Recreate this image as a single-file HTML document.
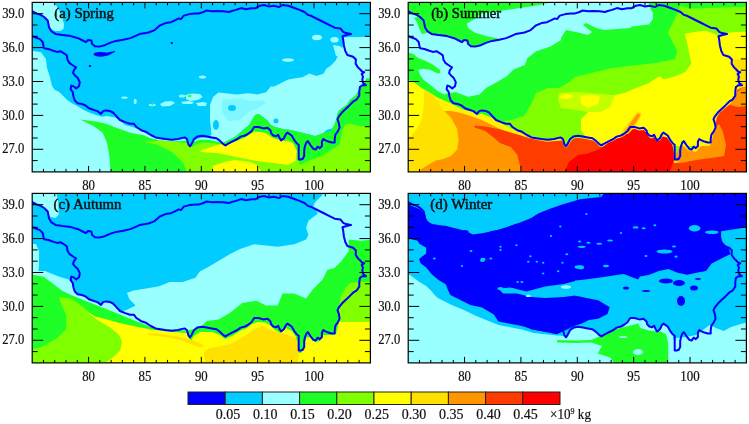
<!DOCTYPE html>
<html><head><meta charset="utf-8"><style>
html,body{margin:0;padding:0;background:#fff;width:749px;height:424px;overflow:hidden}
svg{display:block;will-change:transform;filter:blur(0.55px)}
.tl{font-family:"Liberation Serif",serif;font-size:13.8px;fill:#111;stroke:#111;stroke-width:0.2px}
.cb{font-family:"Liberation Serif",serif;font-size:14px;fill:#111;stroke:#111;stroke-width:0.2px}
.lab{font-family:"Liberation Serif",serif;font-size:13.6px;fill:#111;stroke:#111;stroke-width:0.45px}
</style></head><body>
<svg width="749" height="424" viewBox="0 0 749 424">
<defs>
<clipPath id="clp"><rect x="32.20" y="2.40" width="338.20" height="169.50"/></clipPath>
<polyline id="outline" points="32.5,11.5 36.4,13.4 40.6,14.9 44.1,17.0 47.7,20.5 48.4,24.0 49.1,27.6 51.2,31.1 55.5,33.9 62.5,35.1 71.0,36.1 78.1,38.2 83.7,41.0 86.0,42.2 88.0,40.0 91.4,40.5 92.1,44.0 94.9,46.2 99.1,46.6 104.8,45.2 110.5,42.6 116.1,40.9 123.2,39.8 130.3,38.1 134.5,36.3 139.5,34.1 144.2,33.2 148.5,32.5 154.1,30.4 159.8,25.5 165.5,23.1 171.1,22.2 175.4,20.2 178.9,18.4 181.0,19.1 183.8,15.6 189.5,14.1 195.2,13.4 199.2,13.4 203.5,12.0 206.3,10.6 212.0,11.3 217.6,11.0 223.3,11.3 229.0,12.0 231.8,11.0 236.0,9.9 241.0,8.1 245.9,9.2 251.6,8.2 255.7,8.2 259.9,5.7 264.1,5.0 268.4,6.4 274.0,5.7 279.0,7.1 282.5,5.0 288.2,5.7 293.8,7.8 299.5,9.9 304.5,12.0 308.0,14.9 310.7,15.7 316.3,18.5 323.4,22.0 330.5,25.6 334.7,27.7 340.4,28.4 343.2,31.9 346.0,33.1 351.0,34.0 347.4,34.8 342.5,36.2 343.2,39.7 343.9,45.4 345.3,51.0 347.4,55.0 353.1,56.7 355.9,59.5 355.6,63.7 358.0,67.4 360.5,69.8 362.3,71.7 364.2,72.3 361.7,74.1 363.0,76.6 362.3,79.6 363.0,82.7 366.0,85.2 362.3,85.2 359.9,87.0 359.3,91.3 359.3,95.6 356.8,99.3 353.1,101.7 349.4,105.4 345.3,109.2 341.7,112.8 338.9,116.3 337.5,119.1 338.9,123.4 339.6,127.6 337.5,131.9 335.4,134.7 334.7,139.0 334.7,142.5 331.8,142.5 328.3,141.5 325.5,140.4 323.3,139.0 321.9,141.8 321.9,146.0 319.8,148.1 317.7,146.7 315.6,149.6 313.4,148.8 310.6,145.3 307.8,141.1 306.4,142.5 305.0,146.0 304.2,150.3 304.2,155.9 302.8,158.7 300.7,159.5 298.7,159.5 298.7,152.4 298.7,144.7 296.6,143.2 294.5,140.4 291.7,135.5 287.4,132.6 286.0,134.0 283.9,138.3 281.1,140.4 279.7,138.3 278.2,134.8 276.1,136.2 273.3,135.5 271.2,133.3 270.5,130.5 267.6,127.7 263.4,128.4 258.4,127.0 254.2,127.0 251.4,131.2 247.8,134.0 245.0,135.5 240.6,136.6 237.4,139.0 232.6,141.4 227.8,143.8 225.4,145.4 223.0,143.8 219.7,140.6 216.5,138.2 211.7,137.4 206.9,136.6 202.1,135.8 197.3,136.6 194.1,139.0 191.7,143.8 190.1,146.3 188.5,144.6 186.9,139.0 184.5,137.4 178.1,139.0 171.7,139.8 165.3,139.0 160.4,138.2 155.6,137.4 150.8,135.0 146.0,131.8 141.2,130.2 136.4,127.0 134.0,123.8 130.0,123.8 125.2,122.1 120.0,120.0 115.0,114.6 113.0,112.5 110.2,111.1 105.9,110.4 103.1,111.1 101.0,113.9 97.4,111.1 93.2,109.7 89.0,108.2 85.4,105.4 81.9,104.0 77.6,103.3 74.8,100.5 73.4,96.2 72.7,92.0 70.6,89.1 71.3,85.6 73.4,86.3 76.2,88.4 79.0,86.3 79.8,82.1 77.6,77.8 75.0,75.5 73.1,73.1 73.8,70.3 76.0,67.4 73.8,66.0 69.6,63.2 67.5,59.7 66.8,55.4 64.0,53.3 60.4,51.2 56.9,51.9 52.6,50.5 48.4,49.0 44.1,48.3 43.4,45.5 42.7,42.0 39.9,39.1 36.4,37.7 32.1,36.3" fill="none" stroke="#0000FA" stroke-width="2" stroke-linejoin="round" stroke-linecap="round"/>
<g id="axes"><path d="M43.47 171.90v-3.0M43.47 2.40v3.0M54.75 171.90v-3.0M54.75 2.40v3.0M66.02 171.90v-3.0M66.02 2.40v3.0M77.29 171.90v-3.0M77.29 2.40v3.0M88.57 171.90v-6.0M88.57 2.40v6.0M99.84 171.90v-3.0M99.84 2.40v3.0M111.11 171.90v-3.0M111.11 2.40v3.0M122.39 171.90v-3.0M122.39 2.40v3.0M133.66 171.90v-3.0M133.66 2.40v3.0M144.93 171.90v-6.0M144.93 2.40v6.0M156.21 171.90v-3.0M156.21 2.40v3.0M167.48 171.90v-3.0M167.48 2.40v3.0M178.75 171.90v-3.0M178.75 2.40v3.0M190.03 171.90v-3.0M190.03 2.40v3.0M201.30 171.90v-6.0M201.30 2.40v6.0M212.57 171.90v-3.0M212.57 2.40v3.0M223.85 171.90v-3.0M223.85 2.40v3.0M235.12 171.90v-3.0M235.12 2.40v3.0M246.39 171.90v-3.0M246.39 2.40v3.0M257.67 171.90v-6.0M257.67 2.40v6.0M268.94 171.90v-3.0M268.94 2.40v3.0M280.21 171.90v-3.0M280.21 2.40v3.0M291.49 171.90v-3.0M291.49 2.40v3.0M302.76 171.90v-3.0M302.76 2.40v3.0M314.03 171.90v-6.0M314.03 2.40v6.0M325.31 171.90v-3.0M325.31 2.40v3.0M336.58 171.90v-3.0M336.58 2.40v3.0M347.85 171.90v-3.0M347.85 2.40v3.0M359.13 171.90v-3.0M359.13 2.40v3.0M32.20 160.60h5.5M370.40 160.60h-5.5M32.20 149.30h11.0M370.40 149.30h-11.0M32.20 138.00h5.5M370.40 138.00h-5.5M32.20 126.70h5.5M370.40 126.70h-5.5M32.20 115.40h11.0M370.40 115.40h-11.0M32.20 104.10h5.5M370.40 104.10h-5.5M32.20 92.80h5.5M370.40 92.80h-5.5M32.20 81.50h11.0M370.40 81.50h-11.0M32.20 70.20h5.5M370.40 70.20h-5.5M32.20 58.90h5.5M370.40 58.90h-5.5M32.20 47.60h11.0M370.40 47.60h-11.0M32.20 36.30h5.5M370.40 36.30h-5.5M32.20 25.00h5.5M370.40 25.00h-5.5M32.20 13.70h11.0M370.40 13.70h-11.0" stroke="#000" stroke-width="1" fill="none"/>
<rect x="32.2" y="2.4" width="338.2" height="169.5" fill="none" stroke="#000" stroke-width="1.2"/>
<text x="24.3" y="17.8" class="tl" text-anchor="end" textLength="22.1" lengthAdjust="spacingAndGlyphs">39.0</text>
<text x="24.3" y="51.7" class="tl" text-anchor="end" textLength="22.1" lengthAdjust="spacingAndGlyphs">36.0</text>
<text x="24.3" y="85.6" class="tl" text-anchor="end" textLength="22.1" lengthAdjust="spacingAndGlyphs">33.0</text>
<text x="24.3" y="119.5" class="tl" text-anchor="end" textLength="22.1" lengthAdjust="spacingAndGlyphs">30.0</text>
<text x="24.3" y="153.4" class="tl" text-anchor="end" textLength="22.1" lengthAdjust="spacingAndGlyphs">27.0</text>
<text x="88.6" y="190.0" class="tl" text-anchor="middle" textLength="12.8" lengthAdjust="spacingAndGlyphs">80</text>
<text x="144.9" y="190.0" class="tl" text-anchor="middle" textLength="12.8" lengthAdjust="spacingAndGlyphs">85</text>
<text x="201.3" y="190.0" class="tl" text-anchor="middle" textLength="12.8" lengthAdjust="spacingAndGlyphs">90</text>
<text x="257.7" y="190.0" class="tl" text-anchor="middle" textLength="12.8" lengthAdjust="spacingAndGlyphs">95</text>
<text x="314.0" y="190.0" class="tl" text-anchor="middle" textLength="19.4" lengthAdjust="spacingAndGlyphs">100</text></g>
</defs>
<rect width="749" height="424" fill="#fff"/>

<g transform="translate(0,0)">
<g clip-path="url(#clp)">
<rect x="31.0" y="2.0" width="339.0" height="171.0" fill="#00CCFF"/>
<polygon points="31.0,1.0 53.0,1.0 56.0,5.0 59.0,10.0 62.0,17.0 64.0,24.0 63.5,29.0 60.0,31.0 55.0,31.0 51.0,29.0 49.0,25.0 48.0,21.0 44.5,17.0 40.6,14.9 36.4,13.4 31.0,11.5" fill="#99FFFF"/>
<polygon points="31.0,50.5 41.0,52.2 45.9,59.0 47.0,68.1 50.0,77.2 52.0,86.0 55.0,89.9 59.2,92.0 63.5,96.2 67.7,100.5 72.0,103.3 76.2,105.4 83.3,109.7 89.0,112.5 94.6,114.6 101.7,116.7 107.3,116.0 115.0,117.4 120.0,121.0 125.2,125.0 135.7,128.0 143.7,132.0 151.6,136.0 160.0,139.0 172.0,140.0 185.0,138.5 188.0,141.0 190.0,146.0 193.0,141.0 200.0,138.0 207.2,137.5 215.0,140.0 223.0,143.0 223.0,173.0 31.0,173.0" fill="#99FFFF"/>
<polygon points="211.5,135.0 210.0,120.0 210.0,105.0 213.0,97.0 218.4,92.5 225.3,93.3 236.7,94.5 248.0,93.3 257.1,94.5 266.2,92.2 270.7,86.5 274.2,86.6 281.2,83.1 288.3,79.5 295.4,78.3 302.5,77.2 309.5,73.6 316.6,76.0 323.7,73.6 326.0,68.9 330.8,65.4 335.5,60.7 337.8,55.9 341.4,48.9 343.5,45.0 343.2,39.7 343.0,37.6 350.0,37.0 360.0,37.0 371.5,36.5 371.5,80.0 366.6,78.4 362.0,85.0 359.3,89.4 355.6,95.6 349.4,100.5 346.7,105.0 342.4,107.8 338.9,110.7 337.5,113.5 336.1,123.4 332.5,128.3 326.9,129.8 321.2,134.7 315.0,136.0 307.0,134.0 299.0,132.0 291.0,130.0 283.0,129.0 275.0,127.0 271.0,125.0 267.0,120.0 263.0,117.0 259.0,114.0 255.0,115.0 249.0,125.0 243.0,130.0 235.0,137.0 223.0,143.0 215.0,140.0 207.2,137.0" fill="#99FFFF"/>
<ellipse cx="124.6" cy="97.7" rx="3.2" ry="1.1" fill="#99FFFF"/>
<ellipse cx="135.2" cy="101.4" rx="1.5" ry="2.6" fill="#99FFFF"/>
<ellipse cx="152.3" cy="105.0" rx="3.3" ry="1.2" fill="#99FFFF"/>
<ellipse cx="152.4" cy="104.8" rx="1.2" ry="0.8" fill="#1EFF28"/>
<polygon points="160.0,104.0 165.0,101.5 172.0,101.0 175.0,103.0 170.0,106.0 162.0,106.5" fill="#99FFFF"/>
<ellipse cx="182.0" cy="96.0" rx="3.2" ry="1.6" fill="#99FFFF"/>
<polygon points="185.5,95.0 192.0,93.4 200.0,94.0 202.6,97.0 198.0,100.0 190.0,101.0 186.0,99.0" fill="#99FFFF"/>
<ellipse cx="189.7" cy="96.0" rx="2.0" ry="1.0" fill="#1EFF28"/>
<polygon points="181.0,102.0 188.0,101.0 194.0,102.0 192.0,104.0 183.0,104.0" fill="#99FFFF"/>
<polygon points="196.0,103.0 203.0,102.0 207.0,103.0 206.0,106.0 198.0,106.0" fill="#99FFFF"/>
<ellipse cx="202.5" cy="77.0" rx="3.5" ry="1.5" fill="#99FFFF"/>
<ellipse cx="317.0" cy="37.5" rx="5.0" ry="2.8" fill="#99FFFF"/>
<ellipse cx="334.5" cy="39.8" rx="4.2" ry="2.8" fill="#99FFFF"/>
<ellipse cx="288.0" cy="60.0" rx="6.0" ry="1.8" fill="#99FFFF"/>
<polygon points="333.0,45.0 340.0,46.0 345.0,52.0 343.0,57.0 336.0,56.0" fill="#99FFFF"/>
<polygon points="222.0,100.0 240.0,98.0 250.0,101.0 262.0,100.0 266.0,103.0 258.0,108.0 248.0,112.0 240.0,120.0 228.0,121.0 222.0,112.0" fill="#80F6FF"/>
<ellipse cx="232.0" cy="108.0" rx="4.0" ry="3.0" fill="#00CCFF"/>
<ellipse cx="276.0" cy="121.0" rx="2.5" ry="2.5" fill="#00CCFF"/>
<ellipse cx="216.0" cy="125.0" rx="3.0" ry="5.0" fill="#00CCFF"/>
<polygon points="80.2,119.5 86.1,120.3 97.4,121.7 105.9,123.8 115.0,127.3 130.4,132.7 143.7,135.3 150.0,138.0 160.0,140.5 172.0,141.5 185.0,140.5 188.0,141.0 190.0,147.0 193.0,142.0 200.0,139.7 210.0,140.0 223.0,143.0 235.0,137.0 243.0,130.0 249.0,125.0 255.0,115.0 259.0,114.0 263.0,117.0 267.0,120.0 271.0,125.0 275.0,127.0 283.0,129.0 291.0,130.0 299.0,132.0 307.0,134.0 315.0,136.0 323.0,133.0 331.0,131.0 335.0,123.0 337.5,113.5 338.9,110.7 342.4,107.8 346.7,105.0 349.4,100.5 355.6,95.6 359.3,89.4 362.0,85.0 366.6,78.4 371.5,78.0 371.5,173.0 110.6,173.0 109.3,155.2 106.7,142.0 102.7,132.7 93.4,126.1" fill="#1EFF28"/>
<polygon points="143.7,142.0 162.0,140.6 188.0,143.0 192.0,147.0 200.0,142.5 215.0,143.0 225.0,149.0 235.0,146.0 245.0,140.0 252.0,134.0 258.0,132.0 267.0,133.0 272.0,137.0 283.0,143.0 288.0,139.0 293.0,143.0 297.0,150.0 300.0,165.0 307.1,161.6 314.1,158.7 321.2,155.9 328.3,151.7 335.4,147.4 339.6,144.6 341.0,137.5 342.4,130.5 345.3,124.8 349.5,123.4 360.0,126.2 371.5,126.0 371.5,173.0 187.3,173.0 183.3,163.1 172.7,152.5 156.9,144.6" fill="#80FF00"/>
<polygon points="200.5,150.8 218.5,144.4 231.3,143.0 244.1,138.0 254.4,131.5 264.6,132.8 272.3,138.0 282.6,140.5 292.8,143.0 296.7,150.8 295.4,161.0 287.7,164.9 277.4,163.6 256.9,161.0 244.1,158.5 231.3,155.9 218.5,153.3 200.5,152.0" fill="#FFFF00"/>
<polygon points="211.7,173.0 213.0,166.0 226.0,161.5 235.0,160.0 250.0,162.0 257.0,165.0 262.0,173.0" fill="#FFFF00"/>
<ellipse cx="100.5" cy="54.3" rx="7.0" ry="2.4" fill="#0000FF"/>
<polygon points="105.0,53.0 112.0,51.5 115.5,50.8 114.0,52.5 107.0,56.0" fill="#0000FF"/>
<ellipse cx="90.0" cy="66.0" rx="1.3" ry="0.9" fill="#0000FF"/>
<ellipse cx="171.8" cy="43.1" rx="1.2" ry="1.0" fill="#0000FF"/>
<use href="#outline"/>
</g>
<text x="54.3" y="17.9" class="lab" textLength="59.6" lengthAdjust="spacingAndGlyphs">(a) Spring</text>
<use href="#axes"/>
</g>
<g transform="translate(376,0)">
<g clip-path="url(#clp)">
<rect x="31.0" y="2.0" width="339.0" height="171.0" fill="#1EFF28"/>
<polygon points="31.0,14.0 36.4,13.4 40.6,14.9 44.1,17.0 47.7,20.5 48.4,24.0 49.1,27.6 51.2,31.1 55.5,33.9 62.5,35.1 71.0,36.1 78.1,38.2 83.7,41.0 86.0,42.2 88.0,40.0 91.4,40.5 92.1,44.0 94.9,46.2 99.1,46.6 104.8,45.2 110.5,42.6 116.1,40.9 123.2,39.8 122.5,38.6 110.8,36.2 99.1,32.7 92.1,28.0 90.9,23.4 99.1,18.7 104.0,14.0 110.8,13.0 124.0,11.0 144.0,8.0 164.0,5.0 180.0,1.0 272.0,1.0 274.0,8.0 277.0,13.0 277.0,19.0 272.8,24.4 255.8,26.5 254.0,28.0 228.2,30.0 220.2,28.0 210.0,23.0 207.0,25.0 216.0,32.0 212.0,35.0 200.0,32.0 190.0,30.0 185.0,38.0 185.2,40.0 173.9,46.8 160.2,51.3 151.2,58.2 148.9,65.0 137.5,69.5 130.7,76.3 119.4,83.1 110.3,87.7 103.5,94.5 92.2,96.7 80.0,92.2 72.0,93.0 68.7,94.5 62.0,91.2 53.8,84.5 47.2,79.6 43.9,74.6 42.2,69.7 31.0,69.7" fill="#99FFFF"/>
<polygon points="31.0,52.3 37.3,54.0 42.2,58.1 48.8,60.6 57.1,64.7 63.7,69.7 64.5,73.0 62.0,73.5 53.8,69.7 47.2,68.8 42.2,69.7 31.0,70.0" fill="#1EFF28"/>
<polygon points="44.0,16.0 47.0,20.0 48.5,25.0 49.5,30.0 51.0,33.0 46.0,34.0 43.0,28.0 41.0,22.0 38.0,18.0" fill="#1EFF28"/>
<polygon points="118.0,126.0 124.0,122.0 136.0,119.7 148.0,116.0 155.2,104.0 160.0,93.0 165.0,91.0 172.0,88.0 183.0,88.0 192.0,83.1 199.0,77.0 215.3,73.0 233.8,68.5 257.1,65.5 280.3,63.0 298.9,59.0 301.2,51.1 296.6,41.8 291.9,32.5 296.6,23.2 301.2,13.9 305.9,1.0 371.5,1.0 371.5,173.0 118.0,173.0" fill="#80FF00"/>
<polygon points="183.0,93.0 200.0,92.0 215.0,93.0 238.6,95.3 233.8,107.3 224.2,112.1 212.1,112.1 200.0,110.0 185.0,108.0 182.0,100.0" fill="#C4FF00"/>
<polygon points="300.0,1.0 371.5,1.0 371.5,6.4 342.0,7.8 314.0,8.5 305.0,6.0" fill="#1EFF28"/>
<polygon points="308.9,34.0 311.0,42.5 313.2,53.0 315.3,63.7 309.0,72.2 298.3,76.4 287.7,79.6 284.0,76.0 272.2,83.3 260.2,88.1 248.2,92.9 238.6,95.3 233.8,107.3 224.2,112.1 212.1,112.1 205.0,119.3 205.0,130.0 210.0,138.0 220.0,146.0 371.5,146.0 371.5,31.8 360.0,32.0 350.0,33.0 342.9,36.1 338.6,34.0 330.0,30.8 319.5,31.8" fill="#FFFF00"/>
<ellipse cx="190.0" cy="96.5" rx="6.5" ry="2.5" fill="#FFFF00"/>
<polygon points="204.0,96.0 214.0,94.5 224.0,96.0 222.0,104.0 212.0,108.0 205.0,104.0" fill="#FFFF00"/>
<polygon points="356.0,60.0 371.5,58.0 371.5,90.0 362.0,88.0 360.0,75.0" fill="#FFE100"/>
<polygon points="31.0,79.6 38.9,82.9 45.5,87.9 53.8,92.8 62.0,97.8 73.6,102.8 82.0,107.0 88.4,110.0 96.0,111.5 101.0,115.0 106.0,113.5 116.1,118.0 126.2,124.0 136.2,129.0 146.3,133.0 159.0,137.2 170.0,139.5 186.0,139.0 188.5,145.0 190.5,147.5 193.0,142.0 200.0,138.5 211.0,138.5 222.0,144.5 226.0,146.5 235.0,142.0 245.0,136.5 252.0,130.0 258.0,128.5 267.0,129.5 272.0,134.5 276.0,137.0 282.0,141.0 287.0,134.0 293.0,138.5 297.0,145.5 298.0,160.0 300.5,161.0 303.0,158.0 304.5,147.0 307.5,142.0 311.0,146.5 318.0,149.0 321.0,143.5 325.0,141.0 333.0,143.5 335.5,140.0 336.5,133.0 339.5,127.0 339.0,118.0 342.5,112.0 350.0,106.0 357.0,101.0 360.0,95.0 360.5,88.0 366.0,86.0 371.5,86.0 371.5,173.0 31.0,173.0" fill="#FFF200"/>
<polygon points="68.0,111.0 75.0,111.0 85.0,113.0 96.0,116.5 106.0,120.0 116.0,125.0 126.0,130.0 136.0,134.5 146.0,138.0 159.0,141.0 170.0,144.0 186.0,145.0 190.0,150.0 195.0,146.0 200.0,144.0 211.0,144.0 222.0,150.0 235.0,148.0 245.0,141.0 252.0,135.0 258.0,133.0 267.0,134.0 275.0,141.0 282.0,145.0 287.0,140.0 293.0,143.0 297.0,150.0 298.0,163.0 304.0,162.0 307.0,150.0 312.0,152.0 320.0,152.0 325.0,146.0 333.0,148.0 338.0,143.0 341.0,136.0 343.0,125.0 345.0,116.0 350.0,110.0 357.0,105.0 362.0,97.0 366.0,90.0 371.5,90.0 371.5,173.0 31.0,173.0" fill="#FF9600"/>
<polygon points="98.6,125.6 109.3,126.4 124.7,129.5 140.0,134.1 155.3,138.7 170.7,141.7 186.0,140.5 188.5,146.5 190.5,148.0 192.5,145.0 195.0,141.0 198.0,138.5 202.0,138.0 207.0,138.5 212.0,139.5 217.0,140.5 220.0,142.5 223.0,146.0 226.0,147.5 235.0,145.0 245.0,139.0 252.0,134.0 258.0,131.0 267.0,132.0 276.0,140.0 282.0,143.0 287.0,138.0 293.0,141.0 297.0,148.0 298.0,163.0 304.0,163.0 307.0,152.0 312.0,153.0 320.0,153.0 325.0,147.0 333.0,149.0 336.0,141.0 338.0,133.0 339.5,125.0 340.5,118.0 343.5,113.0 348.0,109.0 353.0,105.0 357.0,101.5 360.0,96.5 361.0,90.0 366.0,87.5 371.5,87.0 371.5,173.0 145.7,173.0 141.4,155.0 134.9,147.0 124.0,143.0 117.0,137.0 109.3,131.0 98.6,127.5" fill="#FF3C00"/>
<polygon points="188.0,173.0 193.0,162.0 202.0,155.0 210.8,153.8 222.0,150.0 228.0,146.0 232.0,143.0 237.0,141.0 241.0,138.5 245.0,137.5 248.0,136.0 251.5,133.0 254.5,129.0 258.5,129.0 263.5,130.5 267.5,130.0 270.5,132.5 273.0,137.5 276.0,138.5 278.0,137.0 280.0,140.5 284.0,140.5 286.5,136.5 291.0,137.5 294.0,142.0 296.5,145.0 297.7,153.7 297.7,160.2 293.4,173.0" fill="#FF0000"/>
<polygon points="298.0,160.0 302.0,150.0 306.0,145.0 312.0,150.0 320.0,152.0 326.0,146.0 334.0,146.0 337.0,137.0 339.0,128.0 343.0,124.0 347.0,132.0 350.0,145.0 348.0,156.0 335.0,158.0 320.0,160.0 305.0,163.0" fill="#FF9600"/>
<polygon points="354.0,105.0 358.0,97.0 362.0,91.0 366.0,88.0 371.5,87.0 371.5,106.0 362.0,107.0" fill="#FF9600"/>
<polygon points="244.0,134.0 250.0,126.0 256.0,118.0 261.0,111.0 266.0,113.0 263.0,121.0 258.0,128.0 252.0,134.0" fill="#FFE100"/>
<polygon points="248.0,132.0 253.0,125.0 258.0,118.0 262.0,113.0 264.5,115.0 261.0,121.0 256.0,128.0 252.0,133.0" fill="#FF9600"/>
<polygon points="31.0,79.6 38.9,82.9 45.5,87.9 50.0,91.0 47.4,110.0 45.8,119.2 41.3,128.4 35.1,136.0 31.0,139.0" fill="#FFFF00"/>
<polygon points="48.0,90.5 56.6,94.3 61.5,101.7 67.3,110.0 75.0,117.7 81.0,128.4 82.6,140.6 81.0,149.8 75.0,156.0 67.3,159.0 59.6,160.5 52.0,165.1 44.3,169.7 41.3,173.0 31.0,173.0 31.0,139.0 35.1,136.0 41.3,128.4 45.8,119.2 47.4,110.0 48.0,100.0" fill="#FFE100"/>
<use href="#outline"/>
</g>
<text x="55.2" y="17.9" class="lab" textLength="70.0" lengthAdjust="spacingAndGlyphs">(b) Summer</text>
<use href="#axes"/>
</g>
<g transform="translate(0,191)">
<g clip-path="url(#clp)">
<rect x="31.0" y="2.0" width="339.0" height="171.0" fill="#00CCFF"/>
<polygon points="31.0,1.0 56.0,1.0 57.5,7.0 58.5,14.0 58.7,23.7 55.4,27.0 50.0,25.7 47.4,21.0 43.4,15.7 38.0,13.0 33.3,10.3 31.0,10.0" fill="#99FFFF"/>
<polygon points="31.0,53.0 36.0,53.0 39.0,60.0 39.0,75.0 38.0,83.0 31.0,83.0" fill="#99FFFF"/>
<polygon points="127.0,101.7 133.4,99.6 146.2,97.5 159.1,95.3 169.7,91.0 182.6,91.0 195.4,86.8 199.7,80.4 208.2,76.1 218.9,69.7 229.6,63.3 240.0,58.0 254.1,53.3 265.9,54.5 277.7,55.7 294.2,53.3 306.1,48.6 308.4,43.9 306.1,36.8 308.4,29.7 317.9,22.6 313.1,15.5 315.5,10.8 322.6,3.7 324.0,1.0 371.5,1.0 371.5,173.0 120.0,173.0 120.0,121.0 127.0,118.8 135.6,114.6 129.1,108.1" fill="#99FFFF"/>
<polygon points="120.0,120.0 115.0,114.6 113.0,112.5 110.2,111.1 105.9,110.4 103.1,111.1 101.0,113.9 97.4,111.1 93.2,109.7 89.0,108.2 85.4,105.4 81.9,104.0 77.6,103.3 74.8,100.5 73.4,96.2 72.7,92.0 70.6,89.1 60.0,86.0 45.0,80.0 31.0,80.0 31.0,173.0 125.0,173.0" fill="#99FFFF"/>
<polygon points="31.0,83.5 43.6,85.8 52.7,92.6 61.8,99.4 70.9,104.0 82.2,108.5 93.5,113.0 104.9,117.6 116.2,122.1 127.6,126.7 138.9,131.2 150.3,135.7 161.6,138.0 175.3,139.1 186.0,139.5 190.0,139.0 200.0,136.5 206.8,130.0 218.6,128.6 230.4,121.5 242.3,112.1 256.4,109.7 265.9,114.4 277.7,114.4 282.4,102.6 294.2,102.6 306.1,107.4 313.1,97.9 322.6,88.5 327.3,79.0 334.4,77.0 341.5,69.9 348.6,60.4 348.6,48.6 360.4,49.8 371.5,48.6 371.5,173.0 31.0,173.0" fill="#1EFF28"/>
<polygon points="59.5,106.2 70.9,107.4 82.2,115.3 89.0,121.0 98.9,130.0 109.6,136.2 118.4,143.2 122.0,150.3 120.2,159.2 113.1,166.3 106.0,173.0 31.0,173.0 31.0,158.4 41.3,156.2 57.2,147.1 66.3,138.0 66.3,124.4 60.0,110.0" fill="#80FF00"/>
<polygon points="339.0,131.0 339.0,115.0 341.0,105.0 345.0,98.0 350.0,92.0 360.0,91.0 371.5,90.8 371.5,131.0" fill="#80FF00"/>
<polygon points="89.2,122.0 95.4,125.5 106.0,128.2 118.4,131.7 130.8,134.4 148.5,137.9 166.2,140.6 180.0,141.5 187.0,142.0 189.0,147.5 191.0,149.5 194.0,145.0 200.0,141.0 212.0,141.0 220.0,144.0 225.0,148.0 232.0,145.0 240.0,140.0 247.0,137.0 252.0,133.0 258.0,131.0 265.0,131.5 270.0,134.0 274.0,138.0 280.0,142.0 286.0,137.0 292.0,140.0 296.0,146.0 297.0,155.0 298.0,162.0 301.0,162.0 304.0,157.0 306.0,147.0 310.0,146.0 315.0,151.0 320.0,150.0 323.0,144.0 330.0,144.0 336.0,143.0 339.0,131.0 371.5,131.0 371.5,173.0 106.0,171.6 113.1,166.3 120.2,159.2 122.0,150.3 118.4,143.2 109.6,136.2 98.9,130.0 89.2,122.9" fill="#FFFF00"/>
<polygon points="205.8,173.0 203.6,162.1 208.0,157.6 230.8,153.0 246.7,144.0 255.7,137.2 262.6,134.9 271.6,139.4 280.7,141.7 294.3,146.2 298.9,150.8 298.9,159.9 298.0,173.0" fill="#FFE100"/>
<polygon points="148.0,142.0 165.0,143.5 180.0,146.0 195.0,150.0 205.0,155.0 200.0,156.5 180.0,149.0 165.0,146.0 148.0,144.0" fill="#FFE100"/>
<use href="#outline"/>
</g>
<text x="53.6" y="17.9" class="lab" textLength="67.8" lengthAdjust="spacingAndGlyphs">(c) Autumn</text>
<use href="#axes"/>
</g>
<g transform="translate(376,191)">
<g clip-path="url(#clp)">
<rect x="31.0" y="2.0" width="339.0" height="171.0" fill="#00CCFF"/>
<polygon points="31.0,13.0 43.0,17.7 48.9,22.4 50.0,29.4 54.7,32.9 66.4,35.2 80.4,37.6 89.7,39.9 96.8,43.4 106.1,42.2 117.8,39.9 129.5,36.4 143.5,31.7 155.2,27.0 162.2,22.4 173.9,17.7 187.9,13.0 204.0,8.3 215.0,7.0 225.0,6.0 229.0,1.0 371.5,1.0 371.5,34.0 369.6,36.5 345.1,40.3 345.1,49.7 352.6,57.3 354.5,63.0 347.0,66.7 335.7,72.4 330.0,79.9 320.6,81.8 311.1,83.7 301.7,81.8 292.3,78.0 282.9,79.9 273.4,83.7 264.0,85.6 262.0,88.5 247.7,83.1 222.5,86.7 205.0,89.0 199.0,89.5 199.0,104.6 210.6,106.9 222.2,109.2 233.8,116.2 231.5,123.1 222.2,127.8 212.9,129.0 206.0,132.4 199.0,134.7 180.9,143.3 169.2,140.9 157.5,138.6 145.8,135.1 134.1,132.7 122.5,130.4 117.8,123.4 106.1,116.4 94.4,114.0 80.4,107.0 74.3,104.0 71.4,97.7 70.0,93.5 62.9,89.3 55.9,83.6 50.2,76.5 44.6,72.3 43.1,68.0 50.2,62.4 50.2,56.7 43.1,52.5 41.7,49.7 32.5,47.5 31.0,47.5" fill="#0000FF"/>
<polygon points="122.5,97.7 134.1,96.5 150.5,100.5 169.2,95.4 187.9,93.0 199.0,90.0 205.0,90.0 205.0,104.6 199.0,104.6 187.9,105.9 169.2,107.0 155.2,105.9 141.1,102.4 127.1,102.4" fill="#00CCFF"/>
<ellipse cx="318.6" cy="37.3" rx="5.8" ry="3.2" fill="#00CCFF"/>
<ellipse cx="336.0" cy="41.3" rx="7.0" ry="1.8" fill="#00CCFF"/>
<ellipse cx="288.5" cy="60.5" rx="8.0" ry="2.0" fill="#00CCFF"/>
<ellipse cx="58.3" cy="67.5" rx="1.5" ry="1.0" fill="#00CCFF"/>
<ellipse cx="86.0" cy="75.0" rx="1.2" ry="1.0" fill="#00CCFF"/>
<ellipse cx="106.4" cy="69.6" rx="2.5" ry="1.3" fill="#00CCFF"/>
<ellipse cx="114.9" cy="67.5" rx="1.5" ry="1.0" fill="#00CCFF"/>
<ellipse cx="124.5" cy="55.7" rx="1.2" ry="1.0" fill="#00CCFF"/>
<ellipse cx="124.5" cy="58.9" rx="1.2" ry="1.0" fill="#00CCFF"/>
<ellipse cx="140.5" cy="54.2" rx="1.2" ry="1.0" fill="#00CCFF"/>
<ellipse cx="154.4" cy="65.3" rx="1.2" ry="1.0" fill="#00CCFF"/>
<ellipse cx="152.3" cy="70.7" rx="1.2" ry="1.0" fill="#00CCFF"/>
<ellipse cx="160.8" cy="70.7" rx="1.2" ry="1.0" fill="#00CCFF"/>
<ellipse cx="167.2" cy="71.7" rx="1.2" ry="1.0" fill="#00CCFF"/>
<ellipse cx="184.3" cy="35.4" rx="1.2" ry="1.0" fill="#00CCFF"/>
<ellipse cx="190.8" cy="63.2" rx="1.5" ry="1.0" fill="#00CCFF"/>
<ellipse cx="203.6" cy="50.4" rx="1.5" ry="1.0" fill="#00CCFF"/>
<ellipse cx="205.7" cy="55.7" rx="4.0" ry="1.0" fill="#00CCFF"/>
<ellipse cx="202.5" cy="76.0" rx="4.0" ry="1.8" fill="#00CCFF"/>
<ellipse cx="186.5" cy="71.7" rx="1.2" ry="1.0" fill="#00CCFF"/>
<ellipse cx="182.2" cy="80.3" rx="1.2" ry="1.0" fill="#00CCFF"/>
<ellipse cx="167.2" cy="82.4" rx="1.2" ry="1.0" fill="#00CCFF"/>
<ellipse cx="145.9" cy="91.0" rx="1.5" ry="1.0" fill="#00CCFF"/>
<ellipse cx="141.6" cy="91.0" rx="1.2" ry="1.0" fill="#00CCFF"/>
<ellipse cx="124.5" cy="97.4" rx="3.0" ry="1.5" fill="#00CCFF"/>
<ellipse cx="135.2" cy="99.5" rx="4.0" ry="2.5" fill="#00CCFF"/>
<ellipse cx="210.4" cy="22.9" rx="1.2" ry="1.0" fill="#00CCFF"/>
<ellipse cx="259.6" cy="36.4" rx="3.0" ry="1.2" fill="#00CCFF"/>
<ellipse cx="267.7" cy="37.2" rx="2.0" ry="1.0" fill="#00CCFF"/>
<ellipse cx="278.8" cy="34.2" rx="1.5" ry="1.0" fill="#00CCFF"/>
<ellipse cx="298.0" cy="55.6" rx="2.0" ry="1.0" fill="#00CCFF"/>
<ellipse cx="300.0" cy="65.6" rx="1.5" ry="1.2" fill="#00CCFF"/>
<ellipse cx="234.0" cy="49.6" rx="3.0" ry="1.0" fill="#00CCFF"/>
<ellipse cx="223.2" cy="52.8" rx="3.0" ry="1.0" fill="#00CCFF"/>
<ellipse cx="212.5" cy="51.7" rx="2.0" ry="1.0" fill="#00CCFF"/>
<ellipse cx="206.0" cy="56.0" rx="2.0" ry="1.0" fill="#00CCFF"/>
<ellipse cx="205.0" cy="76.3" rx="3.0" ry="2.0" fill="#00CCFF"/>
<ellipse cx="230.0" cy="75.0" rx="3.0" ry="1.2" fill="#00CCFF"/>
<ellipse cx="107.0" cy="68.0" rx="2.5" ry="1.2" fill="#00CCFF"/>
<ellipse cx="95.0" cy="60.0" rx="1.5" ry="1.0" fill="#00CCFF"/>
<ellipse cx="175.0" cy="45.0" rx="1.2" ry="1.0" fill="#00CCFF"/>
<ellipse cx="245.0" cy="42.0" rx="1.2" ry="1.0" fill="#00CCFF"/>
<ellipse cx="270.0" cy="65.0" rx="1.5" ry="1.0" fill="#00CCFF"/>
<ellipse cx="190.0" cy="96.0" rx="5.0" ry="1.8" fill="#99FFFF"/>
<ellipse cx="152.3" cy="104.9" rx="2.5" ry="1.2" fill="#99FFFF"/>
<ellipse cx="290.0" cy="90.0" rx="7.0" ry="2.5" fill="#0000FF"/>
<ellipse cx="303.0" cy="92.0" rx="6.0" ry="3.0" fill="#0000FF"/>
<ellipse cx="305.0" cy="110.0" rx="4.0" ry="5.0" fill="#0000FF"/>
<ellipse cx="318.0" cy="97.0" rx="4.0" ry="2.5" fill="#0000FF"/>
<ellipse cx="322.0" cy="88.0" rx="3.0" ry="1.0" fill="#0000FF"/>
<ellipse cx="270.0" cy="100.0" rx="4.0" ry="1.0" fill="#0000FF"/>
<ellipse cx="250.0" cy="97.0" rx="3.0" ry="1.5" fill="#0000FF"/>
<polygon points="31.0,82.2 37.5,86.4 43.1,90.7 50.2,94.9 55.9,100.6 58.7,104.0 61.7,107.0 75.7,114.0 87.4,118.7 99.1,124.6 110.8,129.2 122.5,133.9 134.1,136.2 145.8,138.6 157.5,142.1 169.2,143.3 180.9,144.4 188.0,145.0 190.0,147.0 194.0,140.0 202.0,136.0 212.0,137.5 220.0,141.0 226.0,145.0 233.0,141.0 241.0,137.0 247.0,134.0 253.0,128.0 260.0,127.0 268.0,128.0 272.0,134.0 278.0,136.0 283.0,139.0 287.0,133.0 292.0,137.0 297.0,144.0 300.0,173.0 31.0,173.0" fill="#99FFFF"/>
<polygon points="296.0,150.0 300.0,147.0 310.0,146.0 320.0,144.0 333.7,134.0 340.0,137.0 347.7,140.0 355.0,136.0 371.5,131.0 371.5,173.0 292.0,173.0 294.2,160.3" fill="#99FFFF"/>
<polygon points="181.0,149.0 200.0,149.5 215.0,149.0 226.0,144.3 236.6,139.0 249.5,135.7 262.3,132.5 264.4,137.0 275.1,140.0 283.7,140.0 290.0,143.2 292.2,151.7 292.2,173.0 238.8,173.0 234.5,166.7 221.7,162.4 226.0,155.0 215.0,151.5 200.0,152.0 181.0,151.5" fill="#1EFF28"/>
<ellipse cx="262.0" cy="161.0" rx="5.0" ry="3.0" fill="#99FFFF"/>
<ellipse cx="247.0" cy="146.0" rx="4.0" ry="1.0" fill="#99FFFF"/>
<use href="#outline"/>
</g>
<text x="54.2" y="17.9" class="lab" textLength="62.2" lengthAdjust="spacingAndGlyphs">(d) Winter</text>
<use href="#axes"/>
</g>
<rect x="188.00" y="392.0" width="37.20" height="12.5" fill="#0000FF" stroke="#222" stroke-width="1"/>
<rect x="225.20" y="392.0" width="37.20" height="12.5" fill="#00CCFF" stroke="#222" stroke-width="1"/>
<rect x="262.40" y="392.0" width="37.20" height="12.5" fill="#99FFFF" stroke="#222" stroke-width="1"/>
<rect x="299.60" y="392.0" width="37.20" height="12.5" fill="#1EFF28" stroke="#222" stroke-width="1"/>
<rect x="336.80" y="392.0" width="37.20" height="12.5" fill="#80FF00" stroke="#222" stroke-width="1"/>
<rect x="374.00" y="392.0" width="37.20" height="12.5" fill="#FFFF00" stroke="#222" stroke-width="1"/>
<rect x="411.20" y="392.0" width="37.20" height="12.5" fill="#FFE100" stroke="#222" stroke-width="1"/>
<rect x="448.40" y="392.0" width="37.20" height="12.5" fill="#FF9600" stroke="#222" stroke-width="1"/>
<rect x="485.60" y="392.0" width="37.20" height="12.5" fill="#FF3C00" stroke="#222" stroke-width="1"/>
<rect x="522.80" y="392.0" width="37.20" height="12.5" fill="#FF0000" stroke="#222" stroke-width="1"/>
<text x="228.0" y="419.2" class="cb" text-anchor="middle">0.05</text>
<text x="265.2" y="419.2" class="cb" text-anchor="middle">0.10</text>
<text x="302.4" y="419.2" class="cb" text-anchor="middle">0.15</text>
<text x="339.6" y="419.2" class="cb" text-anchor="middle">0.20</text>
<text x="376.8" y="419.2" class="cb" text-anchor="middle">0.25</text>
<text x="414.0" y="419.2" class="cb" text-anchor="middle">0.30</text>
<text x="451.2" y="419.2" class="cb" text-anchor="middle">0.35</text>
<text x="488.4" y="419.2" class="cb" text-anchor="middle">0.40</text>
<text x="525.6" y="419.2" class="cb" text-anchor="middle">0.45</text>
<text x="550" y="419.2" class="cb" textLength="41" lengthAdjust="spacingAndGlyphs">×10<tspan dy="-5.5" font-size="8.5">9</tspan><tspan dy="5.5"> kg</tspan></text>
</svg></body></html>
